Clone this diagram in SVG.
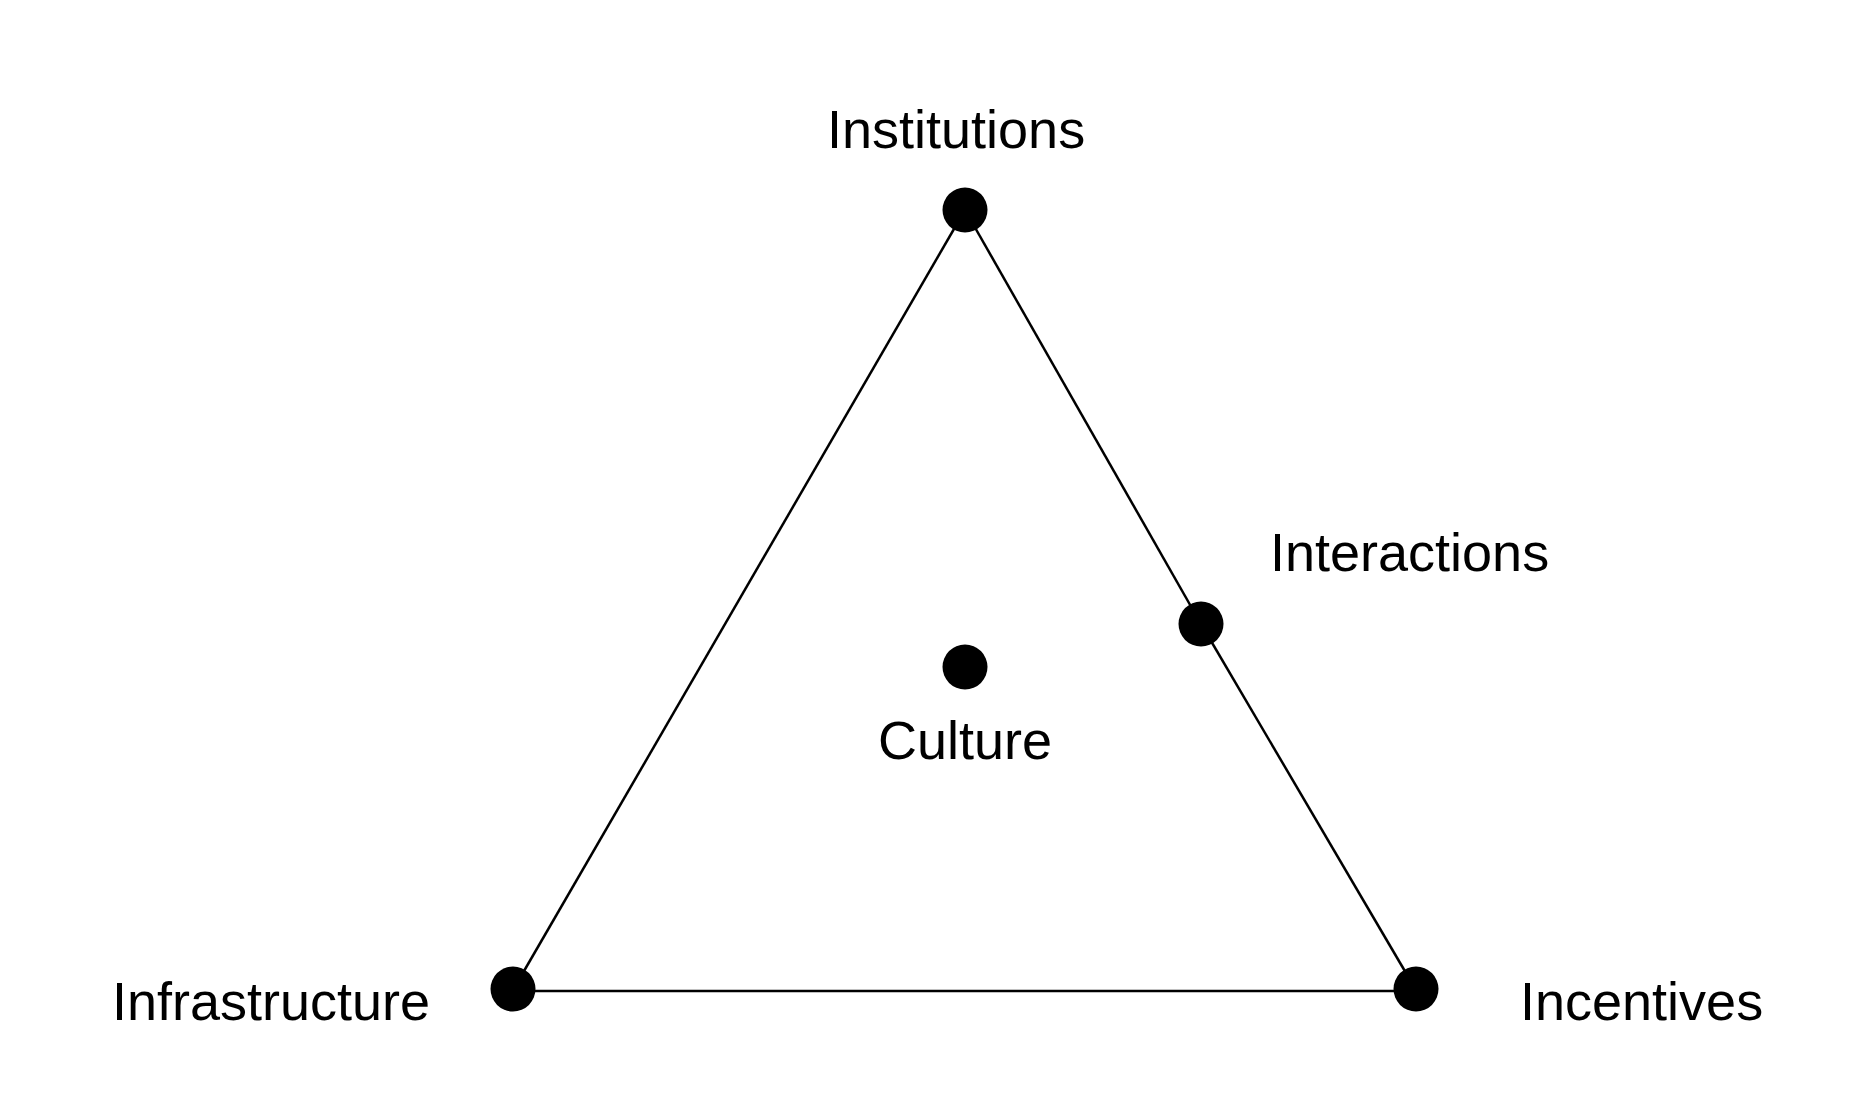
<svg xmlns="http://www.w3.org/2000/svg" width="1852" height="1118" viewBox="0 0 1852 1118">
<style>
.lbl{font-family:"Liberation Sans",Arial,sans-serif;font-size:54px;fill:#000}
.dot{fill:#000}
.edge{stroke:#000;stroke-width:2.5;fill:none}
</style>
<rect width="1852" height="1118" fill="#fff"/>
<g id="connectors">
<line class="edge" x1="965" y1="210" x2="513" y2="990"/>
<line class="edge" x1="965" y1="210" x2="1201" y2="624"/>
<line class="edge" x1="1201" y1="624" x2="1416" y2="990"/>
<line class="edge" x1="513" y1="991" x2="1416" y2="991"/>
</g>
<g id="institutions"><circle class="dot" cx="965" cy="210" r="22.5"/><text class="lbl" x="827" y="148">Institutions</text></g>
<g id="interactions"><circle class="dot" cx="1201" cy="624" r="22.5"/><text class="lbl" x="1270" y="571">Interactions</text></g>
<g id="culture"><circle class="dot" cx="965" cy="667" r="22.5"/><text class="lbl" x="965" y="759" text-anchor="middle">Culture</text></g>
<g id="infrastructure"><circle class="dot" cx="513" cy="989" r="22.5"/><text class="lbl" x="112" y="1020">Infrastructure</text></g>
<g id="incentives"><circle class="dot" cx="1416" cy="989" r="22.5"/><text class="lbl" x="1520" y="1020">Incentives</text></g>
</svg>
